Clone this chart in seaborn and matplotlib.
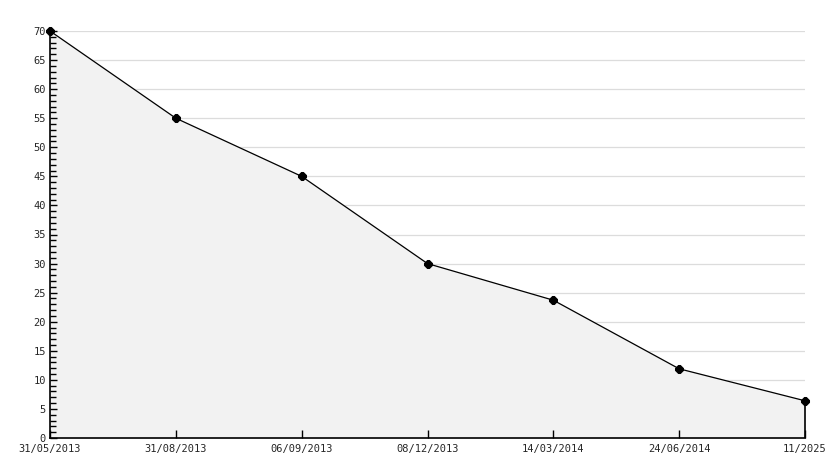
import matplotlib
matplotlib.use("Agg")
import matplotlib.pyplot as plt
import seaborn as sns
import pandas as pd
from matplotlib.ticker import MultipleLocator

# Дані графіка
dates = ['31/05/2013', '31/08/2013', '06/09/2013', '08/12/2013',
         '14/03/2014', '24/06/2014', '11/2025']
values = [70, 55, 45, 30, 23.7, 11.9, 6.4]
y_ticks = list(range(0, 75, 5))

df = pd.DataFrame({'pos': range(len(dates)), 'value': values})

sns.set_style('white')
plt.rcParams['font.family'] = ['DejaVu Sans Mono']

fig = plt.figure(figsize=(8.34, 4.68), dpi=100)
ax = fig.add_axes([50 / 834, 1 - 438 / 468, 755 / 834, 407 / 468])

# сітка під заливкою
for t in y_ticks[1:]:
    ax.axhline(t, color='#dcdcdc', lw=0.9, zorder=0)

ax.fill_between(df['pos'], df['value'], 0, color='#f2f2f2', zorder=1)
ax.vlines(df['pos'].iloc[-1], 0, df['value'].iloc[-1], color='black', lw=1.2,
          zorder=2, clip_on=False)
sns.lineplot(data=df, x='pos', y='value', ax=ax, color='black', lw=0.9,
             marker='8', markersize=5.5, markeredgecolor='black', zorder=3,
             clip_on=False)

ax.set_xlim(0, len(dates) - 1)
ax.set_ylim(0, 70)
ax.set_xticks(df['pos'])
ax.set_xticklabels(dates)
ax.set_yticks(y_ticks)
ax.yaxis.set_minor_locator(MultipleLocator(1))
ax.set_axisbelow(False)

ax.tick_params(axis='y', which='major', direction='in', length=5, width=1,
               labelsize=7.5, pad=3, left=True, color='black')
ax.tick_params(axis='y', which='minor', direction='in', length=4, width=1,
               left=True, color='black')
ax.tick_params(axis='x', which='major', direction='in', length=6, width=1,
               labelsize=7.5, pad=4, bottom=True, color='black')
for s in ['top', 'right']:
    ax.spines[s].set_visible(False)
for s in ['left', 'bottom']:
    ax.spines[s].set_color('black')
    ax.spines[s].set_linewidth(1.2)
ax.set_xlabel('')
ax.set_ylabel('')

fig.savefig('out.png', dpi=100)
